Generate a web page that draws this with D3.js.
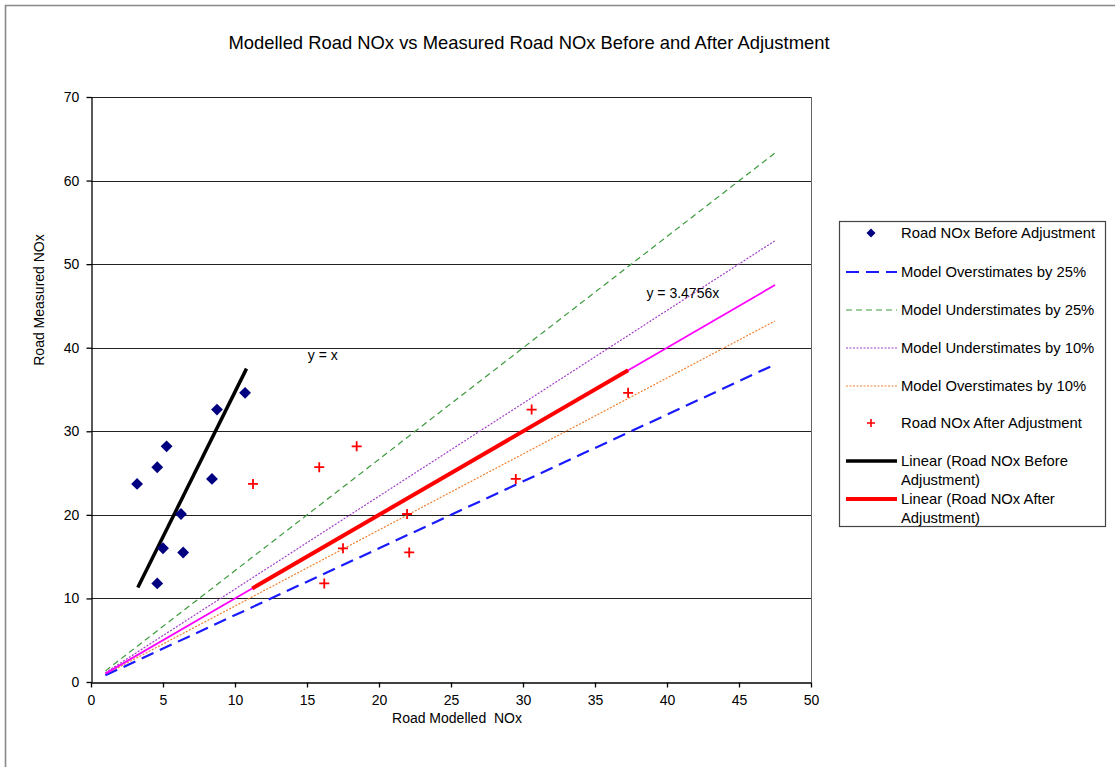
<!DOCTYPE html>
<html><head><meta charset="utf-8">
<script src="https://cdn.jsdelivr.net/npm/d3@7"></script>
<style>body{margin:0;background:#fff;} text{font-family:"Liberation Sans",Arial,sans-serif;}</style>
</head><body>
<svg id="chart" width="1115" height="767"></svg>
<script>
// ---- data ----
const modelledBefore = [3.2, 4.6, 5.25, 5.0, 4.6, 6.25, 6.4, 8.4, 8.75, 10.7];
const modelledAfter  = [11.25, 15.85, 18.45, 17.5, 16.2, 21.95, 22.1, 29.5, 30.6, 37.3];
const measured       = [23.7, 25.7, 28.2, 16.0, 11.8, 20.1, 15.5, 24.3, 32.6, 34.6];
const over25   = [[1, 0.8], [47.5, 38.0]];
const under25  = [[1, 1.33], [47.5, 63.3]];
const under10  = [[1, 1.11], [47.5, 52.8]];
const over10   = [[1, 0.91], [47.5, 43.2]];
const lineYeqX = [[1, 1], [47.5, 47.5]];
const trendBefore = [[3.25, 11.3], [10.8, 37.5]];
const trendAfter  = [[11.2, 11.2], [37.3, 37.3]];
const xTicks = [0,5,10,15,20,25,30,35,40,45,50];
const yTicks = [0,10,20,30,40,50,60,70];
const legendLabels = ["Road NOx Before Adjustment","Model Overstimates by 25%","Model Understimates by 25%","Model Understimates by 10%","Model Overstimates by 10%","Road NOx After Adjustment","Linear (Road NOx Before|Adjustment)","Linear (Road NOx After|Adjustment)"];

const svg = d3.select("#chart");
// outer border (top and left edges visible)
svg.append("path").attr("d","M5.5,767V5.5H1115").attr("fill","none").attr("stroke","#888").attr("stroke-width",1.6);

const L=91, R=811, T=97, B=682;
const x = d3.scaleLinear().domain([0,50]).range([L,R]);
const y = d3.scaleLinear().domain([0,70]).range([B,T]);

// title
svg.append("text").attr("x",529).attr("y",49).attr("text-anchor","middle")
  .attr("font-size",18.4).text("Modelled Road NOx vs Measured Road NOx Before and After Adjustment");

// gridlines
svg.append("g").selectAll("line").data(yTicks.filter(d=>d>0)).join("line")
  .attr("x1",L).attr("x2",R).attr("y1",d=>Math.round(y(d))+0.5).attr("y2",d=>Math.round(y(d))+0.5)
  .attr("stroke","#222").attr("stroke-width",1);
// right border
svg.append("line").attr("x1",R+0.5).attr("x2",R+0.5).attr("y1",T).attr("y2",B).attr("stroke","#666");

// axes
const xAxis = svg.append("g").attr("transform",`translate(0,${B+0.5})`)
  .call(d3.axisBottom(x).tickValues(xTicks).tickSize(5).tickSizeOuter(0));
const yAxis = svg.append("g").attr("transform",`translate(${L+0.5},0)`)
  .call(d3.axisLeft(y).tickValues(yTicks).tickSize(5).tickSizeOuter(0));
[xAxis,yAxis].forEach(a=>{
  a.selectAll("path,line").attr("stroke","#000").attr("stroke-width",1.3);
  a.selectAll("text").attr("font-size",14).attr("fill","#000").style("font-family","'Liberation Sans',Arial,sans-serif");
});
xAxis.selectAll("text").attr("dy","1.05em");
yAxis.selectAll("text").attr("dx","-0.3em");

svg.append("text").attr("x",457).attr("y",723).attr("text-anchor","middle").attr("font-size",14)
  .attr("xml:space","preserve").text("Road Modelled  NOx");
svg.append("text").attr("transform","translate(44,300) rotate(-90)").attr("text-anchor","middle")
  .attr("font-size",14).text("Road Measured NOx");

const line = d3.line().x(d=>x(d[0])).y(d=>y(d[1]));
const g = svg.append("g");
const styles = [
  {d:under25, c:"#3c9a3c", w:1.2, dash:"6,4"},
  {d:under10, c:"#a040c8", w:1.2, dash:"2,1.5"},
  {d:over10,  c:"#f08030", w:1.2, dash:"2,1.5"},
  {d:over25,  c:"#1a1aff", w:2.2, dash:"13,7"},
  {d:lineYeqX,c:"#ff00ff", w:1.8, dash:null},
  {d:trendBefore,c:"#000", w:3.5, dash:null},
  {d:trendAfter, c:"#ff0000", w:4, dash:null}
];
styles.forEach(s=>{
  g.append("path").attr("d",line(s.d)).attr("fill","none").attr("stroke",s.c)
   .attr("stroke-width",s.w).attr("stroke-dasharray",s.dash);
});

// before points (diamonds)
g.selectAll(".db").data(modelledBefore).join("path")
  .attr("transform",(d,i)=>`translate(${x(d)},${y(measured[i])}) rotate(45)`)
  .attr("d",d3.symbol().type(d3.symbolSquare).size(70)).attr("fill","#000080");
// after points (crosses)
const plus = (cx,cy,s)=>`M${cx-s},${cy}H${cx+s}M${cx},${cy-s}V${cy+s}`;
g.selectAll(".pa").data(modelledAfter).join("path")
  .attr("d",(d,i)=>plus(x(d),y(measured[i]),5)).attr("stroke","#ff0000").attr("stroke-width",1.8).attr("fill","none");

// equation labels
svg.append("text").attr("x",x(16.1)).attr("y",y(39.1)+5).attr("text-anchor","middle").attr("font-size",14).text("y = x");
svg.append("text").attr("x",x(41.1)).attr("y",y(46.5)+5).attr("text-anchor","middle").attr("font-size",14).text("y = 3.4756x");

// legend
const lg = svg.append("g");
lg.append("rect").attr("x",839.5).attr("y",221.5).attr("width",266).attr("height",305)
  .attr("fill","#fff").attr("stroke","#444").attr("stroke-width",1.2);
const rowsY = [233,272,310,348,386,423,461,499];
const lx1=846, lx2=897, tx=901;
legendLabels.forEach((lab,i)=>{
  const yy=rowsY[i];
  const parts = lab.split("|");
  parts.forEach((p,j)=>{
    lg.append("text").attr("x",tx).attr("y",yy+5+j*19).attr("font-size",14.8).text(p);
  });
});
// legend markers
lg.append("path").attr("transform",`translate(871,${rowsY[0]}) rotate(45)`)
  .attr("d",d3.symbol().type(d3.symbolSquare).size(40)).attr("fill","#000080");
const legLines = [
  [1,"#1a1aff",2.2,"13,7"],[2,"#3c9a3c",1.2,"6,4"],[3,"#a040c8",1.2,"2,1.5"],[4,"#f08030",1.2,"2,1.5"],
  [6,"#000",3.5,null],[7,"#ff0000",4,null]];
legLines.forEach(([i,c,w,da])=>{
  lg.append("line").attr("x1",lx1).attr("x2",lx2).attr("y1",rowsY[i]).attr("y2",rowsY[i])
    .attr("stroke",c).attr("stroke-width",w).attr("stroke-dasharray",da);
});
lg.append("path").attr("d",plus(871,rowsY[5],4)).attr("stroke","#ff0000").attr("stroke-width",1.6);
</script>
</body></html>
